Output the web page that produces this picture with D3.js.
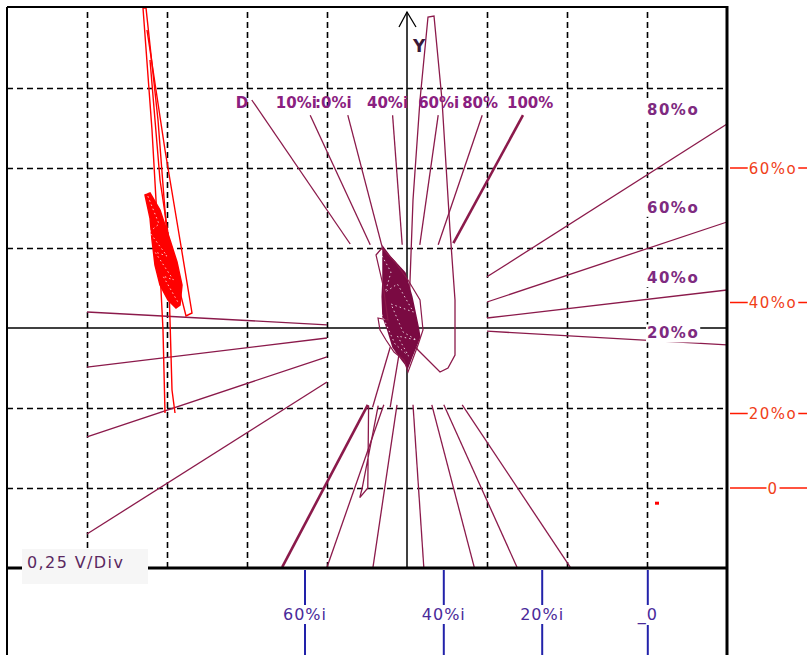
<!DOCTYPE html>
<html>
<head>
<meta charset="utf-8">
<script src="https://cdn.jsdelivr.net/npm/d3@7"></script>
<style>
  body { margin: 0; background: #fff; }
  svg { display: block; }
  text { font-family: "DejaVu Sans", Verdana, sans-serif; }
</style>
</head>
<body>
<script>
// All values in screen divisions (1 div = 0,25 V), origin on the crosshair

// dashed grid
var gridX = [-4, -3, -2, -1, 1, 2, 3];
var gridY = [-2, -1, 1, 2, 3];

// labels along the top of the fan (left edge of each label)
var topLabels = ["D", "10%i", ":0%i", "40%i", "60%i", "80%", "100%"];
var topLabelX = [-2.14, -1.64, -1.15, -0.5, 0.14, 0.69, 1.25];
var topLabelY = 2.75;

// labels on the right of the fan
var rightLabels = ["80%o", "60%o", "40%o", "20%o"];
var rightLabelY = [2.66, 1.44, 0.56, -0.13];
var rightLabelX = 3.0;

// red output scale on the right margin
var outTicks = ["60%o", "40%o", "20%o", "0"];
var outTickY = [2.0, 0.32, -1.07, -2.0];

// blue input scale below the screen
var inTicks = ["60%i", "40%i", "20%i", "_0"];
var inTickX = [-1.275, 0.46, 1.69, 3.01];

// straight traces [x1, y1, x2, y2]
var topSegs = [
  [-1.94, 2.85, -0.71, 1.05],
  [-1.21, 2.66, -0.46, 1.04],
  [-0.74, 2.66, -0.31, 1.01],
  [-0.18, 2.66, -0.06, 1.04],
  [0.39, 2.66, 0.16, 1.04],
  [0.94, 2.66, 0.39, 1.04]
];
var rightSegs = [
  [1, 0.64, 4, 2.55],
  [1, 0.325, 4, 1.325],
  [1, 0.125, 4, 0.475],
  [1, -0.04, 4, -0.21]
];
var leftSegs = [
  [-4, 0.2, -1, 0.04],
  [-4, -0.49, -1, -0.125],
  [-4, -1.36, -1, -0.36],
  [-4, -2.575, -1, -0.675]
];
var bottomSegs = [
  [-1, -2.99, -0.29, -0.96],
  [-0.425, -2.99, -0.125, -0.96],
  [0.21, -2.99, 0.075, -0.96],
  [0.84, -2.99, 0.31, -0.96],
  [1.375, -2.99, 0.46, -0.96],
  [2.04, -2.99, 0.69, -0.96],
  [-0.21, -0.24, -0.43, -0.99],
  [-0.09, -0.27, -0.21, -0.99]
];
var thickSegs = [
  [1.45, 2.66, 0.58, 1.06],
  [-1.56, -2.99, -0.49, -0.96]
];

// curved traces
var bigLoop = [[0.0125, -0.0875], [0.075, 1.6], [0.1625, 2.85], [0.2625, 3.8875], [0.3375, 3.9],
  [0.4375, 2.85], [0.5375, 1.225], [0.6, 0.35], [0.6, -0.3375], [0.5125, -0.5], [0.4125, -0.55],
  [0.1375, -0.275], [0.0375, -0.15]];
var smallLoop = [[-0.36, -0.97], [-0.56, -2.0], [-0.59, -2.12], [-0.49, -2.0], [-0.48, -0.97]];
var cluster = [[-0.3, 1.01], [-0.21, 0.89], [-0.025, 0.69], [0.06, 0.39], [0.14, 0.01], [0.16, -0.11],
  [0.06, -0.36], [0.01, -0.49], [-0.06, -0.4], [-0.175, -0.24], [-0.24, -0.025], [-0.3, 0.14],
  [-0.31, 0.39], [-0.3, 0.6], [-0.3, 0.81]];
var clusterEdge = [[-0.3625, 0.125], [-0.2375, 0.1], [-0.3, 0.5375], [-0.3875, 0.9125], [-0.3125, 1.0],
  [-0.15, 0.825], [0.0125, 0.6], [0.1625, 0.35], [0.2, -0.025], [0.1375, -0.2125], [0.0125, -0.55],
  [-0.0375, -0.4], [-0.1625, -0.3], [-0.2625, -0.15], [-0.3375, -0.025]];
var clusterScrawl = [[-0.34, 0.95], [-0.2, 0.7], [-0.27, 0.45], [-0.12, 0.55], [0.08, 0.2], [-0.2, 0.3],
  [-0.05, -0.05], [0.12, -0.15], [-0.12, -0.1], [0.02, -0.35], [-0.15, -0.2], [-0.33, 0.2]];

// red trace
var redA = [[-3.025, -1.0625], [-3.05, -0.025], [-3.0875, 0.725], [-3.1875, 2.475], [-3.3, 4.0],
  [-3.2625, 4.0], [-3.1125, 2.6], [-2.9875, 0.975], [-2.9625, 0.1], [-2.9375, -0.775], [-2.9, -1.0625]];
var redB = [[-3.25, 3.725], [-3.025, 2.225], [-2.8375, 1.1], [-2.6875, 0.1875], [-2.7625, 0.15],
  [-2.9375, 0.85], [-3.0875, 1.85], [-3.2125, 3.35]];
var redBlob = [[-3.2125, 1.6875], [-3.0875, 1.475], [-2.9625, 1.1], [-2.875, 0.825], [-2.8125, 0.5375],
  [-2.8375, 0.2875], [-2.8875, 0.25], [-2.9875, 0.35], [-3.0875, 0.5375], [-3.15, 0.7875],
  [-3.1875, 1.1], [-3.2125, 1.375], [-3.275, 1.6625]];
var redScrawl = [[-3.26, 1.7], [-3.1, 1.3], [-3.22, 1.2], [-3.0, 0.9], [-3.15, 0.95], [-2.92, 0.6],
  [-3.05, 0.65], [-2.85, 0.3]];
var redDot = [3.125, -2.19];

var W = 807, H = 655;
var maroon = "#8b1a4b";

var svg = d3.select("body").append("svg")
  .attr("width", W)
  .attr("height", H);

var x = d3.scaleLinear().domain([-5, 4]).range([7, 727]);
var y = d3.scaleLinear().domain([-3, 4]).range([568, 8]);

var line = d3.line().x(function(d) { return x(d[0]); }).y(function(d) { return y(d[1]); });

//dashed grid
svg.append("g")
  .attr("transform", "translate(0," + y(-3) + ")")
  .call(d3.axisBottom(x).tickValues(gridX).tickSize(-(y(-3) - y(4))).tickFormat(""))
  .call(function(g) { g.select(".domain").remove(); })
  .selectAll("line")
  .attr("stroke", "#000").attr("stroke-width", 1.6).attr("stroke-dasharray", "6,4");
svg.append("g")
  .attr("transform", "translate(" + x(-5) + ",0)")
  .call(d3.axisLeft(y).tickValues(gridY).tickSize(-(x(4) - x(-5))).tickFormat(""))
  .call(function(g) { g.select(".domain").remove(); })
  .selectAll("line")
  .attr("stroke", "#000").attr("stroke-width", 1.6).attr("stroke-dasharray", "6,4");

//crosshair
svg.append("line").attr("x1", x(-5)).attr("x2", x(4)).attr("y1", y(0)).attr("y2", y(0))
  .attr("stroke", "#000").attr("stroke-width", 1.5);
svg.append("line").attr("x1", x(0)).attr("x2", x(0)).attr("y1", y(4) + 4).attr("y2", y(-3))
  .attr("stroke", "#000").attr("stroke-width", 1.5);
svg.append("path")
  .attr("d", "M" + (x(0) - 8) + "," + (y(4) + 19) + "L" + x(0) + "," + (y(4) + 4) + "L" + (x(0) + 9) + "," + (y(4) + 19))
  .attr("fill", "none").attr("stroke", "#000").attr("stroke-width", 1.3);

//straight traces
function segs(data, width) {
  svg.append("g").selectAll("line")
    .data(data)
    .enter().append("line")
    .attr("x1", function(d) { return x(d[0]); })
    .attr("y1", function(d) { return y(d[1]); })
    .attr("x2", function(d) { return x(d[2]); })
    .attr("y2", function(d) { return y(d[3]); })
    .attr("stroke", maroon)
    .attr("stroke-width", width);
}
segs(topSegs, 1.3);
segs(rightSegs, 1.3);
segs(leftSegs, 1.3);
segs(bottomSegs, 1.3);
segs(thickSegs, 2.6);

//loops and the dense cluster in the middle
[bigLoop, smallLoop].forEach(function(p) {
  svg.append("path").attr("d", line(p)).attr("fill", "none").attr("stroke", maroon).attr("stroke-width", 1.3);
});
svg.append("path").attr("d", line(cluster) + "Z").attr("fill", "#7a0a42").attr("stroke", "#7a0a42").attr("stroke-width", 1.5);
svg.append("path").attr("d", line(clusterEdge) + "Z").attr("fill", "none").attr("stroke", maroon).attr("stroke-width", 1.2);
svg.append("path").attr("d", line(clusterScrawl)).attr("fill", "none").attr("stroke", "#fff").attr("stroke-width", 0.8)
  .attr("stroke-dasharray", "1.5,3");

//red trace
[redA, redB].forEach(function(p) {
  svg.append("path").attr("d", line(p)).attr("fill", "none").attr("stroke", "#ff0000").attr("stroke-width", 1.4);
});
svg.append("path").attr("d", line(redBlob) + "Z").attr("fill", "#ff0000").attr("stroke", "#ff0000").attr("stroke-width", 1.5);
svg.append("path").attr("d", line(redScrawl)).attr("fill", "none").attr("stroke", "#fff").attr("stroke-width", 0.8)
  .attr("stroke-dasharray", "1.5,3");
svg.append("rect").attr("x", x(redDot[0]) - 2).attr("y", y(redDot[1]) - 1.5).attr("width", 4).attr("height", 3).attr("fill", "#ff0000");

//label with a box behind it
function boxed(t, fill, pad) {
  var b = t.node().getBBox();
  svg.insert("rect", function() { return t.node(); })
    .attr("x", b.x - pad).attr("y", b.y).attr("width", b.width + 2 * pad).attr("height", b.height)
    .attr("fill", fill);
}

topLabels.forEach(function(s, i) {
  svg.append("text")
    .attr("x", x(topLabelX[i])).attr("y", y(topLabelY))
    .attr("font-size", "15px").attr("font-weight", "bold")
    .attr("fill", "#8a2080")
    .text(s);
});

rightLabels.forEach(function(s, i) {
  var t = svg.append("text")
    .attr("x", x(rightLabelX)).attr("y", y(rightLabelY[i]))
    .attr("font-size", "15px").attr("font-weight", "bold").attr("letter-spacing", "1.5px")
    .attr("fill", "#7e2a80")
    .text(s);
  boxed(t, "#fff", 1);
});

svg.append("text").attr("x", x(0) + 6).attr("y", y(4) + 44)
  .attr("font-size", "17px").attr("font-weight", "bold").attr("fill", "#3a1838")
  .text("Y");

//frame
svg.append("line").attr("x1", x(-5)).attr("x2", x(-5)).attr("y1", y(4) - 1).attr("y2", H)
  .attr("stroke", "#000").attr("stroke-width", 2);
svg.append("line").attr("x1", x(-5)).attr("x2", x(4)).attr("y1", y(4) - 1).attr("y2", y(4) - 1)
  .attr("stroke", "#000").attr("stroke-width", 2);
svg.append("line").attr("x1", x(4)).attr("x2", x(4)).attr("y1", y(4) - 2).attr("y2", H)
  .attr("stroke", "#000").attr("stroke-width", 3);
svg.append("line").attr("x1", x(-5)).attr("x2", x(4)).attr("y1", y(-3)).attr("y2", y(-3))
  .attr("stroke", "#000").attr("stroke-width", 3);

//scale label in the corner
svg.append("rect").attr("x", 22).attr("y", 549).attr("width", 126).attr("height", 35).attr("fill", "#f6f6f6");
svg.append("text").attr("x", 27).attr("y", 568)
  .attr("font-size", "16px").attr("letter-spacing", "1.4px").attr("fill", "#5a2860")
  .text("0,25 V/Div");

//blue input ticks
inTicks.forEach(function(s, i) {
  svg.append("line").attr("x1", x(inTickX[i])).attr("x2", x(inTickX[i]))
    .attr("y1", y(-3) + 2).attr("y2", H)
    .attr("stroke", "#2222aa").attr("stroke-width", 2);
  var t = svg.append("text")
    .attr("x", x(inTickX[i])).attr("y", 620)
    .attr("text-anchor", "middle")
    .attr("font-size", "16px").attr("letter-spacing", "1px")
    .attr("fill", "#4a2a9a")
    .text(s);
  boxed(t, "#fff", 1);
});

//red output ticks
outTicks.forEach(function(s, i) {
  svg.append("line").attr("x1", x(4) + 3).attr("x2", W)
    .attr("y1", y(outTickY[i])).attr("y2", y(outTickY[i]))
    .attr("stroke", "#ff1a00").attr("stroke-width", 1.5);
  var t = svg.append("text")
    .attr("x", 773).attr("y", y(outTickY[i]) + 5.5)
    .attr("text-anchor", "middle")
    .attr("font-size", "15px").attr("letter-spacing", "1.5px")
    .attr("fill", "#f04018")
    .text(s);
  boxed(t, "#fff", 1);
});
</script>
</body>
</html>
